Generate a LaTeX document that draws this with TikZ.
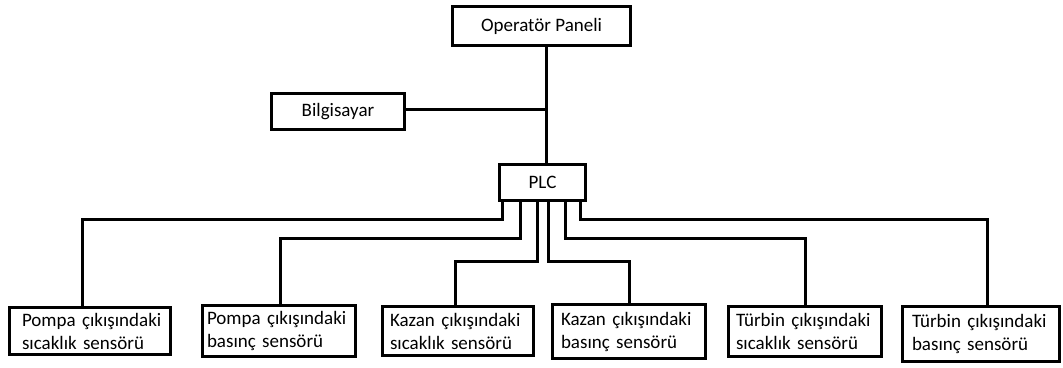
\documentclass[tikz,border=0pt]{standalone}
\usepackage{fontspec}
\setmainfont{Carlito}
\begin{document}
\begin{tikzpicture}[x=1pt,y=-1pt,
  box/.style={draw, line width=3pt, font=\fontsize{19}{23}\selectfont, inner sep=0pt},
  sensor/.style={box, align=left},
  wire/.style={line width=3pt}]
\useasboundingbox (0,0) rectangle (1063,367);
\node[box, minimum width=178, minimum height=39] (op) at (541.5,26) {Operatör Paneli};
\node[box, minimum width=133, minimum height=36] (bil) at (338,111.5) {Bilgisayar};
\node[box, minimum width=86, minimum height=36] (plc) at (542.5,182.5) {PLC};
\node[sensor, text width=136, inner xsep=12.5, minimum height=47] (b1) at (90,331) {\mbox{Pompa çıkışındaki}\\\mbox{sıcaklık sensörü}};
\node[sensor, text width=144, inner xsep=4.5, minimum height=51] (b2) at (279,331) {\mbox{Pompa çıkışındaki}\\\mbox{basınç sensörü}};
\node[sensor, text width=136, inner xsep=7.5, minimum height=49] (b3) at (458,331) {\mbox{Kazan çıkışındaki}\\\mbox{sıcaklık sensörü}};
\node[sensor, text width=136, inner xsep=8.5, minimum height=54] (b4) at (629,331.5) {\mbox{Kazan çıkışındaki}\\\mbox{basınç sensörü}};
\node[sensor, text width=138, inner xsep=7.5, minimum height=50] (b5) at (805,331.5) {\mbox{Türbin çıkışındaki}\\\mbox{sıcaklık sensörü}};
\node[sensor, text width=138, inner xsep=9.5, minimum height=55] (b6) at (981,334) {\mbox{Türbin çıkışındaki}\\\mbox{basınç sensörü}};
% bus
\coordinate (bus) at (546,109);
\draw[wire] (op.south -| bus) -- (plc.north -| bus);
\draw[wire] (bil.east |- bus) -- (bus);
% levels
\coordinate (l1) at (0,219);
\coordinate (l2) at (0,238);
\coordinate (l3) at (0,261);
% PLC exits
\coordinate (p1) at ([xshift=-40.5]plc.south);
\coordinate (p2) at ([xshift=-22.5]plc.south);
\coordinate (p3) at ([xshift=-5.5]plc.south);
\coordinate (p4) at ([xshift=5.5]plc.south);
\coordinate (p5) at ([xshift=22.5]plc.south);
\coordinate (p6) at ([xshift=37.5]plc.south);
% sensor entries
\coordinate (t1) at ([xshift=-8]b1.north);
\coordinate (t2) at ([xshift=1]b2.north);
\coordinate (t3) at ([xshift=-3]b3.north);
\coordinate (t4) at (b4.north);
\coordinate (t5) at (b5.north);
\coordinate (t6) at ([xshift=6]b6.north);
\draw[wire] (p1) -- (p1 |- l1) -| (t1);
\draw[wire] (p2) -- (p2 |- l2) -| (t2);
\draw[wire] (p3) -- (p3 |- l3) -| (t3);
\draw[wire] (p4) -- (p4 |- l3) -| (t4);
\draw[wire] (p5) -- (p5 |- l2) -| (t5);
\draw[wire] (p6) -- (p6 |- l1) -| (t6);
\end{tikzpicture}
\end{document}
